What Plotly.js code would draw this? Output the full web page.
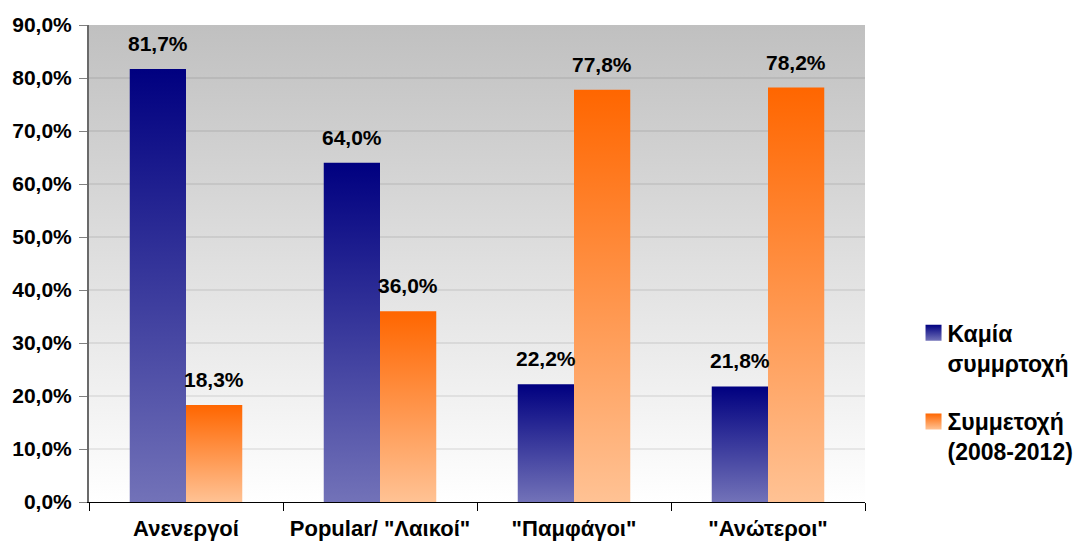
<!DOCTYPE html>
<html><head><meta charset="utf-8">
<script src="https://cdn.plot.ly/plotly-3.0.1.min.js"></script>
<style>html,body{margin:0;padding:0;background:#fff}</style>
</head><body><div id="chart" style="width:1080px;height:545px"></div>
<script>
const categories = ['Ανενεργοί', 'Popular/ "Λαικοί"', '"Παμφάγοι"', '"Ανώτεροι"'];
const seriesNames = ['Καμία<br>συμμρτοχή', 'Συμμετοχή<br>(2008-2012)'];
const noParticipation = [81.7, 64.0, 22.2, 21.8];
const participation = [18.3, 36.0, 77.8, 78.2];
const yTickValues = [0, 10, 20, 30, 40, 50, 60, 70, 80, 90];

const FONT = '"Liberation Sans", Arial, sans-serif';
const fmt = v => v.toFixed(1).replace('.', ',') + '%';
const bold = s => s.split('<br>').map(p => '<b>' + p + '</b>').join('<br>');
const F = {family: FONT, size: 21, weight: 700, color: '#000'};
const FX = {family: FONT, size: 22, weight: 700, color: '#000'};
const FL = {family: FONT, size: 23, weight: 700, color: '#000'};

const traces = [
  {type: 'bar', name: bold(seriesNames[0]), x: categories, y: noParticipation,
   marker: {color: '#2a2a8a'}, legendgroup: 'a', hoverinfo: 'none'},
  {type: 'bar', name: bold(seriesNames[1]), x: categories, y: participation,
   marker: {color: '#ff8040'}, legendgroup: 'b', hoverinfo: 'none'}
];

const annotations = [];
[noParticipation, participation].forEach((vals, s) => {
  vals.forEach((v, i) => {
    annotations.push({x: categories[i], y: v, xref: 'x', yref: 'y', text: '<b>' + fmt(v) + '</b>',
      showarrow: false, yanchor: 'bottom', yshift: 12, xshift: s === 0 ? -28 : 28, font: F});
  });
});

const layout = {
  width: 1080, height: 545,
  margin: {l: 89, r: 215, t: 25, b: 43, autoexpand: false},
  paper_bgcolor: '#ffffff', plot_bgcolor: '#e0e0e0',
  barmode: 'group', bargap: 0.42, bargroupgap: 0,
  font: F,
  xaxis: {type: 'category', showline: true, linecolor: '#000', linewidth: 1,
    ticks: 'outside', tickson: 'boundaries', ticklen: 8, tickcolor: '#000', tickwidth: 1,
    ticklabelstandoff: 7, showgrid: false, tickfont: FX, automargin: false,
    tickvals: categories, ticktext: categories.map(c => '<b>' + c + '</b>')},
  yaxis: {range: [0, 90], tickvals: yTickValues, ticktext: yTickValues.map(v => '<b>' + fmt(v) + '</b>'),
    showline: true, linecolor: '#6a6a6a', linewidth: 2, ticks: 'outside', ticklen: 8,
    tickcolor: '#808080', tickwidth: 1, ticklabelstandoff: 3, automargin: false,
    showgrid: true, gridcolor: 'rgba(0,0,0,0.07)', gridwidth: 2, zeroline: false, tickfont: F},
  legend: {x: 1.0548, y: 0.40, xanchor: 'left', yanchor: 'top', traceorder: 'grouped',
    tracegroupgap: 26, valign: 'top', itemwidth: 30, font: FL},
  annotations: annotations
};

Plotly.newPlot('chart', traces, layout, {staticPlot: true, displayModeBar: false}).then(gd => {
  const svg = gd.querySelector('.main-svg');
  const NS = 'http://www.w3.org/2000/svg';
  const defs = document.createElementNS(NS, 'defs');
  const mk = (id, c1, c2) => {
    const g = document.createElementNS(NS, 'linearGradient');
    g.setAttribute('id', id); g.setAttribute('x1', '0'); g.setAttribute('y1', '0');
    g.setAttribute('x2', '0'); g.setAttribute('y2', '1');
    [[0, c1], [1, c2]].forEach(([o, c]) => {
      const st = document.createElementNS(NS, 'stop');
      st.setAttribute('offset', o); st.setAttribute('stop-color', c);
      g.appendChild(st);
    });
    defs.appendChild(g);
  };
  mk('gBlue', '#000080', '#7272b8');
  mk('gOrange', '#ff6600', '#ffc294');
  mk('gBg', '#c0c0c0', '#ffffff');
  svg.insertBefore(defs, svg.firstChild);
  const bg = gd.querySelector('.bglayer rect.bg');
  if (bg) bg.style.fill = 'url(#gBg)';
  const grads = ['url(#gBlue)', 'url(#gOrange)'];
  gd.querySelectorAll('.barlayer .trace.bars').forEach((t, i) => {
    t.querySelectorAll('path').forEach(p => { p.style.fill = grads[i]; });
  });
  gd.querySelectorAll('.legend .traces').forEach((t, i) => {
    t.querySelectorAll('.legendpoints path').forEach(p => {
      p.style.fill = grads[i]; p.style.stroke = 'none';
      p.setAttribute('d', 'M-8,-8H8V8H-8Z');
      p.setAttribute('transform', 'translate(26,0)');
    });
  });
});
</script></body></html>
